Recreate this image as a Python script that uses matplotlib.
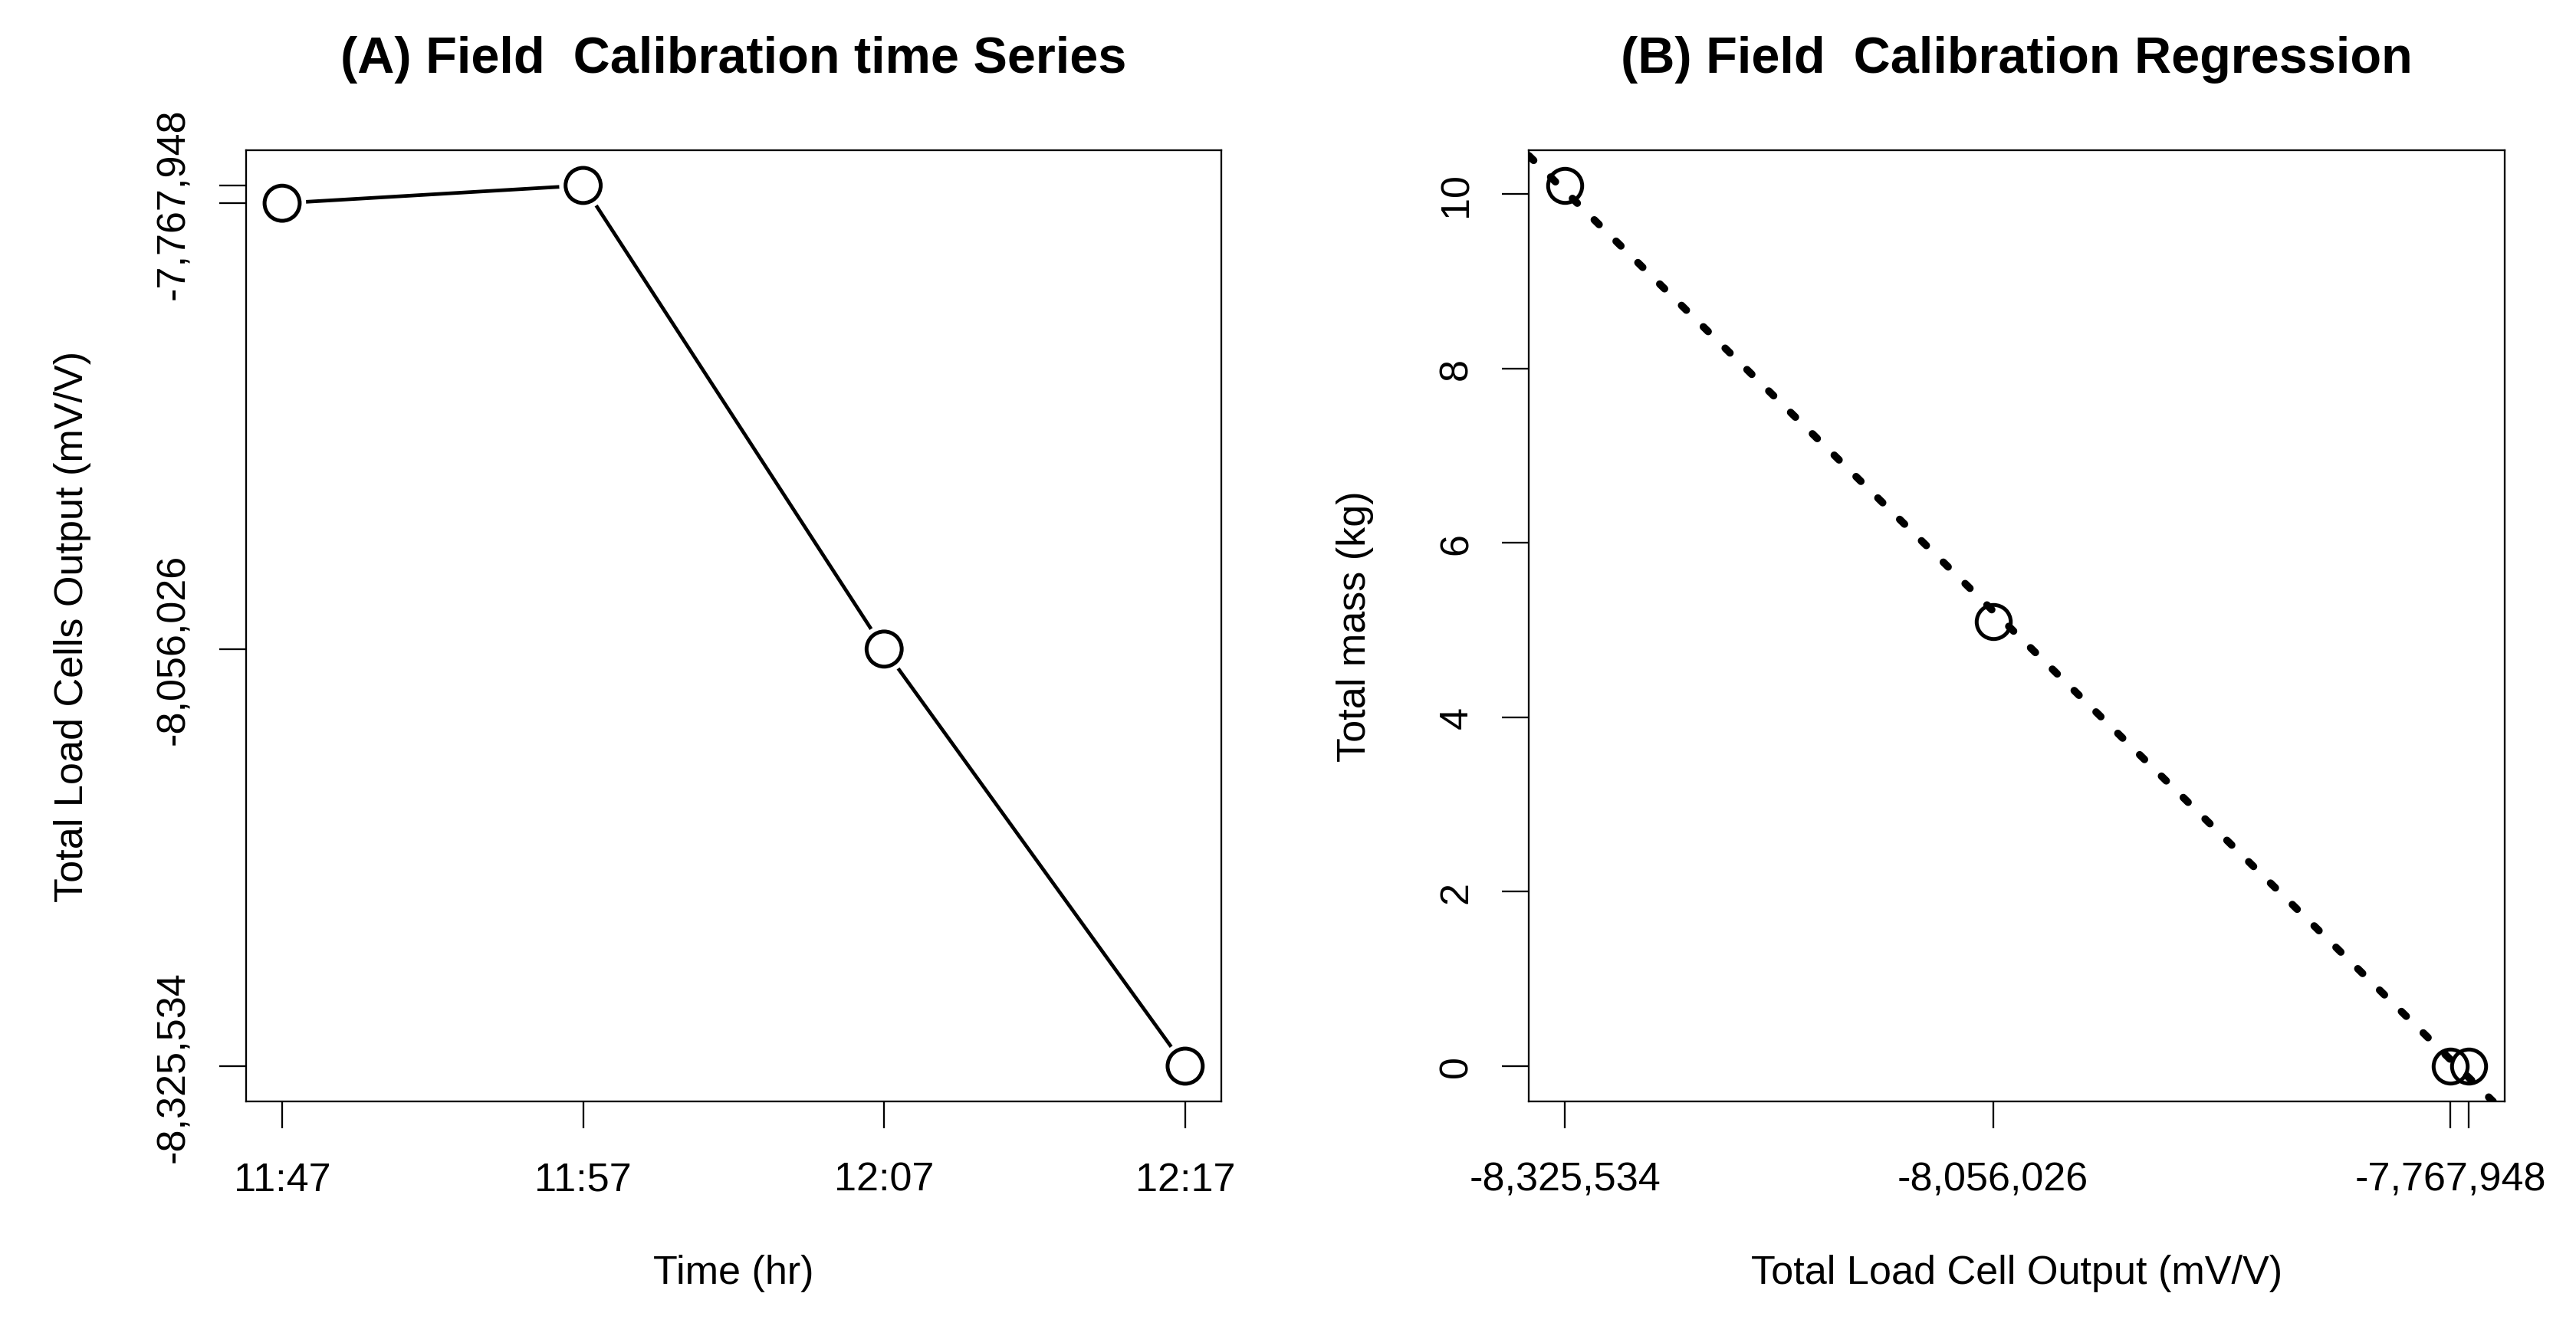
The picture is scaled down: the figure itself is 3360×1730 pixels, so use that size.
import numpy as np
import matplotlib.pyplot as plt
from matplotlib import patheffects as pe

plt.rcParams['font.family'] = ['Liberation Sans', 'DejaVu Sans']

# data
times = ["11:47", "11:57", "12:07", "12:17"]
load_output = [-7767948, -7756450, -8056026, -8325534]   # mV/V
mass = [0, 0, 5.1, 10.1]                                 # kg
hidden = 1   # tick whose label R dropped (overlap)

mins = np.array([int(s.split(":")[0]) * 60 + int(s.split(":")[1]) for s in times])
mins = mins - mins[0]


def r_lim(v):
    # R default axis range: data range + 4% each side
    lo, hi = min(v), max(v)
    pad = 0.04 * (hi - lo)
    return lo - pad, hi + pad


load_labels = [f"{v:,}" for v in load_output]
load_labels[hidden] = ""

FS = 37.5
TFS = 48
LW_AX = 1.65

fig = plt.figure(figsize=(33.6, 17.31), dpi=100)
ax1 = fig.add_axes([0.0955, 0.1693, 0.3786, 0.7169])
ax2 = fig.add_axes([0.5935, 0.1693, 0.3789, 0.7169])

# (A) time series
ax1.plot(mins, load_output, color="black", lw=3.4, zorder=2)
ax1.plot(mins, load_output, "o", ms=33, mfc="white", mec="black", mew=3.6, zorder=3,
         path_effects=[pe.Stroke(linewidth=12, foreground="white"), pe.Normal()])
ax1.set_xlim(r_lim(mins))
ax1.set_ylim(r_lim(load_output))
ax1.set_xticks(mins)
ax1.set_xticklabels(times)
ax1.set_yticks(load_output)
ax1.set_yticklabels(load_labels, rotation=90, va="center")
ax1.set_title("(A) Field  Calibration time Series", fontsize=TFS, fontweight="bold",
              y=1.082, pad=0)
ax1.set_xlabel("Time (hr)", fontsize=FS, va="center")
ax1.set_ylabel("Total Load Cells Output (mV/V)", fontsize=FS, va="center")

# (B) regression
slope, icpt = np.polyfit(load_output, mass, 1)
ax2.plot(load_output, mass, "o", ms=32, mfc="none", mec="black", mew=3.6, zorder=3)
ax2.axline((load_output[0], slope * load_output[0] + icpt), slope=slope, color="black",
           lw=7, linestyle=(0, (0.9, 3.2)), dash_capstyle="round", zorder=2)
ax2.set_xlim(r_lim(load_output))
ax2.set_ylim(r_lim(mass))
ax2.set_xticks(load_output)
ax2.set_xticklabels(load_labels)
ax2.set_yticks([0, 2, 4, 6, 8, 10])
ax2.set_yticklabels(["0", "2", "4", "6", "8", "10"], rotation=90, va="center")
ax2.set_title("(B) Field  Calibration Regression", fontsize=TFS, fontweight="bold",
              y=1.082, pad=0)
ax2.set_xlabel("Total Load Cell Output (mV/V)", fontsize=FS, va="center")
ax2.set_ylabel("Total mass (kg)", fontsize=FS, va="center")

for ax in (ax1, ax2):
    for sp in ax.spines.values():
        sp.set_linewidth(LW_AX)
    ax.tick_params(axis="both", direction="out", length=25, width=LW_AX, labelsize=FS)
    ax.tick_params(axis="x", pad=31)
    ax.tick_params(axis="y", pad=25)
    ax.xaxis.set_label_coords(0.5, -0.180)
    ax.yaxis.set_label_coords(-0.178, 0.5)

fig.savefig("out.png", dpi=100, facecolor="white")
